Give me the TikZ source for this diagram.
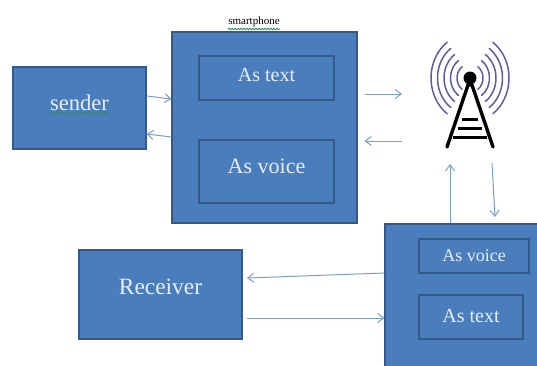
\documentclass[tikz,border=0pt]{standalone}
\usepackage{fontspec}
\setmainfont{Liberation Serif}
\usetikzlibrary{arrows.meta,positioning,calc,decorations.pathmorphing}
\definecolor{boxfill}{RGB}{74,125,187}
\definecolor{boxline}{RGB}{52,88,136}
\definecolor{boxtext}{RGB}{232,238,246}
\definecolor{linkline}{RGB}{125,157,198}
\definecolor{wavecolor}{RGB}{92,94,160}
\definecolor{squiggle}{RGB}{50,140,85}

\tikzset{
    bluebox/.style={draw=boxline, fill=boxfill, line width=1.1pt, inner sep=0pt, text=boxtext},
    link/.style={draw=linkline, line width=1pt, -{Straight Barb[length=6pt,width=9pt]}},
    spellmark/.style={squiggle, line width=0.9pt, decorate, decoration={snake, amplitude=0.7pt, segment length=3pt}}
}

\begin{document}
\begin{tikzpicture}[x=1pt, y=-1pt]
    \useasboundingbox (0,0) rectangle (537,365);
    \clip (0,0) rectangle (537,365);

    % =====================================================================
    % BOXES
    % =====================================================================

    \node[bluebox, minimum width=133, minimum height=82, font=\fontsize{22.6}{24}\selectfont] (sender) at (79.5,108) {\raisebox{11pt}{sender}};
    \node[bluebox, minimum width=185, minimum height=191] (phone) at (264.5,127.5) {};
    \node[bluebox, minimum width=135, minimum height=44, font=\fontsize{20}{22}\selectfont] (phonetext) at (266.5,78) {\raisebox{6pt}{As text}};
    \node[bluebox, minimum width=135, minimum height=63, font=\fontsize{22}{24}\selectfont] (phonevoice) at (266.5,171.5) {\raisebox{11pt}{As voice}};
    \node[font=\fontsize{11}{12}\selectfont, inner sep=1pt] (phonelabel) at (254,21.5) {smartphone};

    \node[bluebox, minimum width=163, minimum height=89, font=\fontsize{23.4}{25}\selectfont] (receiver) at (160.5,294.5) {\raisebox{16pt}{Receiver}};

    \node[bluebox, minimum width=170, minimum height=160] (base) at (470,304) {};
    \node[bluebox, minimum width=110, minimum height=34, font=\fontsize{18}{20}\selectfont] (basevoice) at (474,256) {\raisebox{-2pt}{As voice}};
    \node[bluebox, minimum width=104, minimum height=44, font=\fontsize{20}{22}\selectfont] (basetext) at (471,317) {\raisebox{2pt}{As text}};

    % Soulignements du correcteur
    \draw[spellmark] (50,113.5) -- (110,113.5);
    \draw[spellmark] (228,29) -- (280,29);

    % =====================================================================
    % TOWER
    % =====================================================================

    \coordinate (top) at (470,78);
    \foreach \r in {12,18.5,25,31.5,38} {
        \draw[wavecolor, line width=1.5pt, line cap=round]
            ($(top)+(-1,0)$) ++(125:{\r} and {1.15*\r}) arc (125:235:{\r} and {1.15*\r});
        \draw[wavecolor, line width=1.5pt, line cap=round]
            ($(top)+(1,0)$) ++(55:{\r} and {1.15*\r}) arc (55:-55:{\r} and {1.15*\r});
    }
    \draw[black, line width=3.4pt, line cap=round] (447,147) -- (468,85) -- (472,85) -- (493,147);
    \foreach \y/\w in {119/8,128/12,137/17} {
        \draw[black, line width=3pt] ({470-\w},\y) -- ({470+\w},\y);
    }
    \fill[black] (top) circle (6.5);

    % =====================================================================
    % ARROWS
    % =====================================================================

    \draw[link] (sender.east |- 0,96) -- (phone.west |- 0,99);
    \draw[link] (phone.west |- 0,137) -- (sender.east |- 0,134);

    \coordinate (towerin) at (402,94);
    \coordinate (towerout) at (402,141);
    \draw[link] ($(phone.east |- towerin)+(7,0)$) -- (towerin);
    \draw[link] (towerout) -- ($(phone.east |- towerout)+(7,0)$);

    \coordinate (upend) at (450,164);
    \coordinate (downstart) at (492,163);
    \coordinate (downend) at (495,217);
    \draw[link] (base.north -| upend) -- (upend);
    \draw[link] (downstart) -- (downend);

    \coordinate (recvin) at (247,278);
    \coordinate (recvout) at (247,318);
    \draw[link] (base.west |- 0,273) -- (recvin);
    \draw[link] (recvout) -- (base.west |- recvout);

\end{tikzpicture}
\end{document}
